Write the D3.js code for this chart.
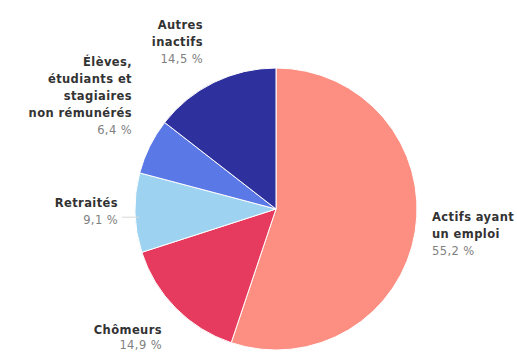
<!DOCTYPE html>
<html lang="fr">
<head>
<meta charset="utf-8">
<script src="https://cdn.jsdelivr.net/npm/d3@7"></script>
<style>
  html, body { margin: 0; padding: 0; background: #fff; }
  svg { display: block; font-family: "DejaVu Sans", "Noto Sans", sans-serif; }
</style>
</head>
<body>
<svg id="chart" width="517" height="354"></svg>
<script>
// Population de 15 à 64 ans par type d'activité (%)
const categories = [
  ["Actifs ayant", "un emploi"],
  ["Chômeurs"],
  ["Retraités"],
  ["Élèves,", "étudiants et", "stagiaires", "non rémunérés"],
  ["Autres", "inactifs"]
];
const shares = [55.2, 14.9, 9.1, 6.4, 14.5];
const valueLabels = ["55,2 %", "14,9 %", "9,1 %", "6,4 %", "14,5 %"];
const colors = ["#fd8f82", "#e63a5f", "#9dd2f0", "#5b79e6", "#2e309d"];

// label placement: offset of the text block from the pie centre, and its alignment
const labelLayout = [
  { dx: 156, dy: 12, anchor: "start", gap: 17 },
  { dx: -114, dy: 125, anchor: "end", gap: 15 },
  { dx: -158, dy: -2, anchor: "end", gap: 17 },
  { dx: -144, dy: -143, anchor: "end", gap: 17 },
  { dx: -73, dy: -180, anchor: "end", gap: 17 }
];

const svg = d3.select("#chart");
const cx = 276, cy = 209, radius = 141;

const g = svg.append("g").attr("transform", `translate(${cx},${cy})`);

const pie = d3.pie().sort(null).value(d => d);
const arcs = pie(shares);
const arc = d3.arc().innerRadius(0).outerRadius(radius);

g.selectAll("path.slice")
  .data(arcs)
  .join("path")
  .attr("class", "slice")
  .attr("d", arc)
  .attr("fill", (d, i) => colors[i])
  .attr("stroke", "#ffffff")
  .attr("stroke-width", 1);

// light leader from the "Retraités" label to its slice
{
  const i = 2, L = labelLayout[i];
  const a = (arcs[i].startAngle + arcs[i].endAngle) / 2;
  const y = L.dy + L.gap * 0.6;
  g.append("line")
    .attr("x1", L.dx + 4).attr("y1", y)
    .attr("x2", Math.sin(a) * (radius - 4)).attr("y2", y)
    .attr("stroke", "#d8d8d8").attr("stroke-width", 1);
}

const labels = g.selectAll("text.label")
  .data(arcs)
  .join("text")
  .attr("class", "label")
  .attr("text-anchor", (d, i) => labelLayout[i].anchor)
  .attr("font-size", 11.5)
  .attr("letter-spacing", 0.4);

labels.each(function (d, i) {
  const t = d3.select(this);
  const L = labelLayout[i];
  categories[i].forEach((line, k) => {
    t.append("tspan")
      .attr("x", L.dx)
      .attr("y", L.dy + k * L.gap)
      .attr("font-weight", "bold")
      .attr("fill", "#333")
      .text(line);
  });
  t.append("tspan")
    .attr("x", L.dx)
    .attr("y", L.dy + categories[i].length * L.gap)
    .attr("fill", "#808080")
    .text(valueLabels[i]);
});
</script>
</body>
</html>
